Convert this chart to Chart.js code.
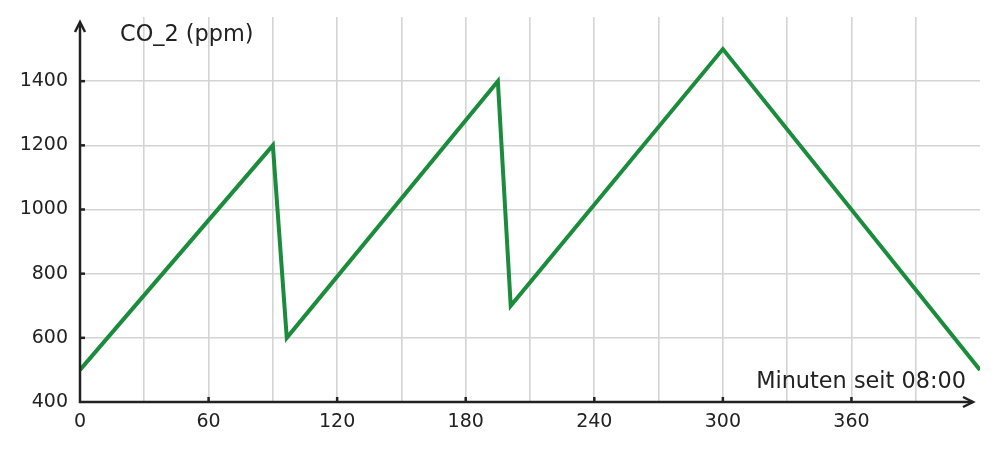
<!DOCTYPE html>
<html><head><meta charset="utf-8">
<script src="https://cdn.jsdelivr.net/npm/chart.js@4"></script>
<style>html,body{margin:0;padding:0;background:#fff}#wrap{width:998px;height:451px}</style>
</head><body><div id="wrap"><canvas id="c"></canvas></div>
<script>
const minutes = [0, 90, 96.5, 195, 201, 300, 420];
const co2 = [500, 1200, 600, 1400, 700, 1500, 500];
const yTicks = [400, 600, 800, 1000, 1200, 1400];
const xTickLabels = [0, 60, 120, 180, 240, 300, 360];
const yTitle = 'CO_2 (ppm)';
const xTitle = 'Minuten seit 08:00';

const FONT = '"DejaVu Sans", sans-serif';
const AX = '#222222';

const axesPlugin = {
  id: 'axesPlugin',
  afterDraw(chart) {
    const {ctx, chartArea: a, scales: {x, y}} = chart;
    ctx.save();
    ctx.strokeStyle = AX; ctx.lineWidth = 2.5; ctx.lineCap = 'butt';
    const x0 = x.getPixelForValue(0), y0 = y.getPixelForValue(400);
    ctx.beginPath(); ctx.moveTo(x0, y0 + 1); ctx.lineTo(x0, a.top + 6); ctx.stroke();
    ctx.beginPath(); ctx.moveTo(x0 - 1, y0); ctx.lineTo(a.right - 7, y0); ctx.stroke();
    ctx.lineJoin = 'miter';
    ctx.beginPath(); ctx.moveTo(x0 - 5, a.top + 15); ctx.lineTo(x0, a.top + 5); ctx.lineTo(x0 + 5, a.top + 15); ctx.stroke();
    ctx.beginPath(); ctx.moveTo(a.right - 17, y0 - 5); ctx.lineTo(a.right - 7, y0); ctx.lineTo(a.right - 17, y0 + 5); ctx.stroke();
    yTicks.forEach(v => { if (v === 400) return; const p = y.getPixelForValue(v); ctx.beginPath(); ctx.moveTo(x0, p); ctx.lineTo(x0 + 5, p); ctx.stroke(); });
    xTickLabels.forEach(v => { if (v === 0) return; const p = x.getPixelForValue(v); ctx.beginPath(); ctx.moveTo(p, y0); ctx.lineTo(p, y0 - 5); ctx.stroke(); });
    ctx.fillStyle = AX; ctx.font = '22.4px ' + FONT; ctx.textBaseline = 'middle';
    ctx.textAlign = 'left'; ctx.fillText(yTitle, x0 + 40, a.top + 18);
    ctx.textAlign = 'right'; ctx.fillText(xTitle, a.right - 14, y0 - 20);
    ctx.restore();
  }
};

new Chart(document.getElementById('c'), {
  type: 'line',
  data: {
    datasets: [{
      data: minutes.map((m, i) => ({x: m, y: co2[i]})),
      borderColor: '#1a8c3c', borderWidth: 4, pointRadius: 0, tension: 0,
      borderJoinStyle: 'miter', fill: false
    }]
  },
  options: {
    responsive: true, maintainAspectRatio: false, animation: false,
    layout: {padding: {top: 17, right: 18, left: 0, bottom: 0}},
    plugins: {legend: {display: false}, tooltip: {enabled: false}},
    scales: {
      x: {
        type: 'linear', min: 0, max: 420,
        afterFit(s) { s.height = 49; s.paddingLeft = 0; s.paddingRight = 0; },
        border: {display: false},
        grid: {color: c => (c.tick && (c.tick.value === 0 || c.tick.value === 420)) ? 'rgba(0,0,0,0)' : '#d4d4d4', lineWidth: 1.6, drawTicks: false},
        ticks: {stepSize: 30, autoSkip: false, maxRotation: 0, padding: 9, color: AX, font: {family: FONT, size: 19},
          callback: v => xTickLabels.includes(v) ? String(v) : ''}
      },
      y: {
        type: 'linear', min: 400, max: 1600,
        afterFit(s) { s.width = 80; s.paddingTop = 0; s.paddingBottom = 0; },
        border: {display: false},
        grid: {color: c => (c.tick && (c.tick.value === 400 || c.tick.value === 1600)) ? 'rgba(0,0,0,0)' : '#d4d4d4', lineWidth: 1.6, drawTicks: false},
        ticks: {stepSize: 200, padding: 12, color: AX, font: {family: FONT, size: 19},
          callback: v => yTicks.includes(v) ? String(v) : ''}
      }
    }
  },
  plugins: [axesPlugin]
});
</script></body></html>
